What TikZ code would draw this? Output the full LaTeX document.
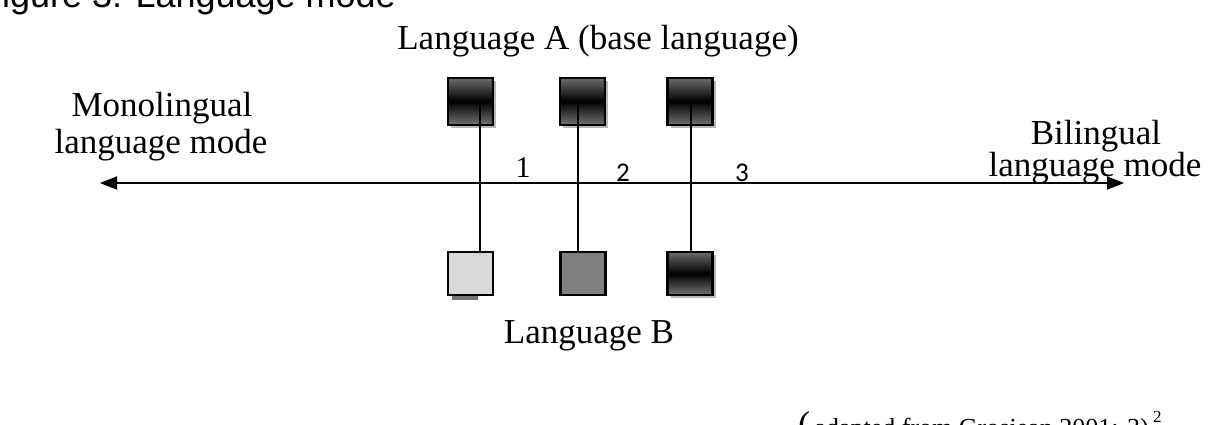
\documentclass[tikz,border=0pt]{standalone}
\usepackage{fontspec}
\setmainfont{Liberation Serif}
\newfontfamily\arialfont{Liberation Sans}
\newfontfamily\calfont{Carlito}
\usetikzlibrary{arrows.meta,shadows}
\begin{document}
\begin{tikzpicture}[x=1pt,y=-1pt,
  lbl/.style={inner sep=0pt,anchor=base,font=\fontsize{35}{29}\selectfont,align=center},
  darkbox/.style={draw=black,line width=2.4pt,minimum width=45pt,inner sep=0pt,
     top color=black!58,bottom color=black!55,middle color=black,shading angle=0,
     general shadow={shadow xshift=3pt,shadow yshift=-3pt,fill=black!40,opacity=.7}},
  ltbox/.style={draw=black,line width=2.4pt,minimum width=45pt,minimum height=43pt,inner sep=0pt},
  conn/.style={line width=1.4pt,black},
  axis/.style={line width=1.6pt,{Triangle[length=17pt,width=13pt]}-{Triangle[length=17pt,width=13pt]}}
]
\useasboundingbox (0,0) rectangle (1213,424);
% title (clipped at top)
\node[inner sep=0pt,anchor=base west,font=\arialfont\fontsize{36}{36}\selectfont] (title) at (-20,7) {Figure 3: Language mode};
% labels
\node[lbl] (la) at (598,49) {Language A (base language)};
\node[lbl] (lb) at (589,343) {Language B};
\node[lbl] (mono1) at (162,116) {Monolingual};
\node[lbl] (mono2) at (161,153) {language mode};
\node[lbl] (bil1) at (1096,144) {Bilingual};
\node[lbl] (bil2) at (1095,176) {language mode};
% axis
\coordinate (axL) at (100,183);
\coordinate (axR) at (1124,183);
\draw[axis] (axL) -- (axR);
% top boxes
\node[darkbox,minimum height=47pt] (t1) at (470.5,101.5) {};
\node[darkbox,minimum height=47pt] (t2) at (582.5,101.5) {};
\node[darkbox,minimum height=47pt] (t3) at (690,101.5) {};
% bottom boxes
\fill[black!55] (452,294) rectangle (478,300);
\node[ltbox,fill=black!15] (b1) at (470.5,273.5) {};
\node[ltbox,fill=black!50] (b2) at (583,273.5) {};
\node[darkbox,minimum height=43pt,general shadow={}] (b3) at (690,273.5) {};
% connectors
\coordinate (c1) at (480,102);
\coordinate (c2) at (578,102);
\coordinate (c3) at (691,102);
\draw[conn] (c1) -- (c1 |- b1.north);
\draw[conn] (c2) -- (c2 |- b2.north);
\draw[conn] (c3) -- (c3 |- b3.north);
% numbers
\node[inner sep=0pt,anchor=base,font=\fontsize{30}{30}\selectfont] (n1) at (523,177) {1};
\node[inner sep=0pt,anchor=base,font=\calfont\fontsize{27}{27}\selectfont] (n2) at (623,181) {2};
\node[inner sep=0pt,anchor=base,font=\calfont\fontsize{27}{27}\selectfont] (n3) at (742,181) {3};
% source line (clipped at bottom)
\node[inner sep=0pt,anchor=base west,font=\fontsize{26}{26}\selectfont] (src) at (798,436) {{\fontsize{36}{36}\selectfont(}\,adapted from Grosjean 2001: 3)\,\raisebox{1.1ex}{\fontsize{17}{17}\selectfont 2}};
\end{tikzpicture}
\end{document}
